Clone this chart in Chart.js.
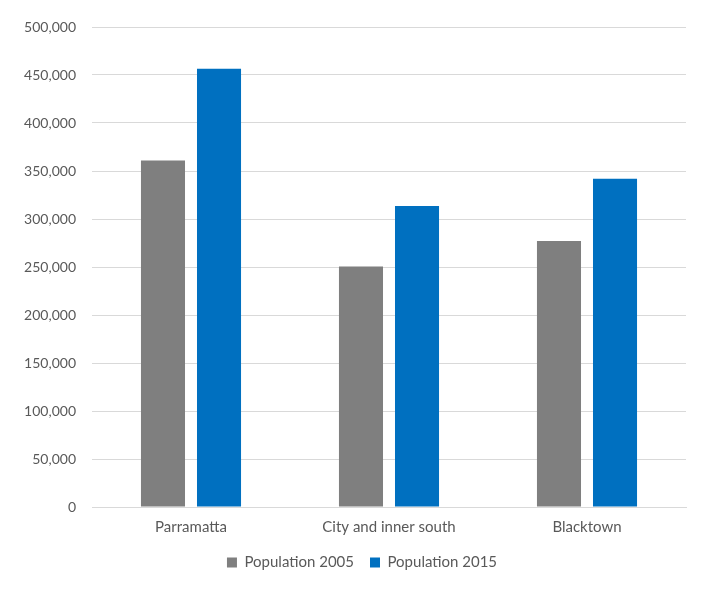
<!DOCTYPE html>
<html>
<head>
<meta charset="utf-8">
<script src="https://cdn.jsdelivr.net/npm/chart.js@4"></script>
<style>
  html, body { margin: 0; padding: 0; background: #fff; }
  #wrap { width: 710px; height: 591px; position: relative; }
</style>
</head>
<body>
<div id="wrap"><canvas id="chart"></canvas></div>
<script>
// datos del gráfico
const categories = ["Parramatta", "City and inner south", "Blacktown"];
const population2005 = [361000, 250500, 277000];
const population2015 = [456500, 313500, 342000];
const seriesNames = ["Population 2005", "Population 2015"];
const yMax = 500000;
const yStep = 50000;

const font = "Lato, 'Open Sans', sans-serif";

// desplaza la leyenda un poco a la derecha, como en el original
const legendShift = {
    id: 'legendShift',
    afterLayout(chart) {
        if (chart.legend) chart.legend.left += 38;
    }
};

new Chart(document.getElementById("chart"), {
    type: 'bar',
    data: {
        labels: categories,
        datasets: [
            {
                label: seriesNames[0],
                data: population2005,
                backgroundColor: "#7f7f7f",
                categoryPercentage: 0.566,
                barPercentage: 0.786
            },
            {
                label: seriesNames[1],
                data: population2015,
                backgroundColor: "#0070c0",
                categoryPercentage: 0.566,
                barPercentage: 0.786
            }
        ]
    },
    plugins: [legendShift],
    options: {
        responsive: true,
        maintainAspectRatio: false,
        animation: false,
        layout: { padding: { top: 27, right: 24, bottom: 11, left: 0 } },
        scales: {
            x: {
                grid: { display: false },
                border: { color: "#d9d9d9", width: 1 },
                ticks: { color: "#595959", font: { family: font, size: 15 }, padding: 3 }
            },
            y: {
                min: 0,
                max: yMax,
                afterFit: function (axis) { axis.width = 92; },
                border: { display: false },
                grid: { color: "#d9d9d9", drawTicks: false },
                ticks: {
                    stepSize: yStep,
                    padding: 16,
                    color: "#595959",
                    font: { family: font, size: 14 },
                    callback: v => v.toLocaleString("en-US")
                }
            }
        },
        plugins: {
            tooltip: { enabled: false },
            legend: {
                position: 'bottom',
                labels: {
                    color: "#595959",
                    font: { family: font, size: 15 },
                    boxWidth: 10,
                    boxHeight: 10,
                    padding: 16
                }
            }
        }
    }
});
</script>
</body>
</html>
